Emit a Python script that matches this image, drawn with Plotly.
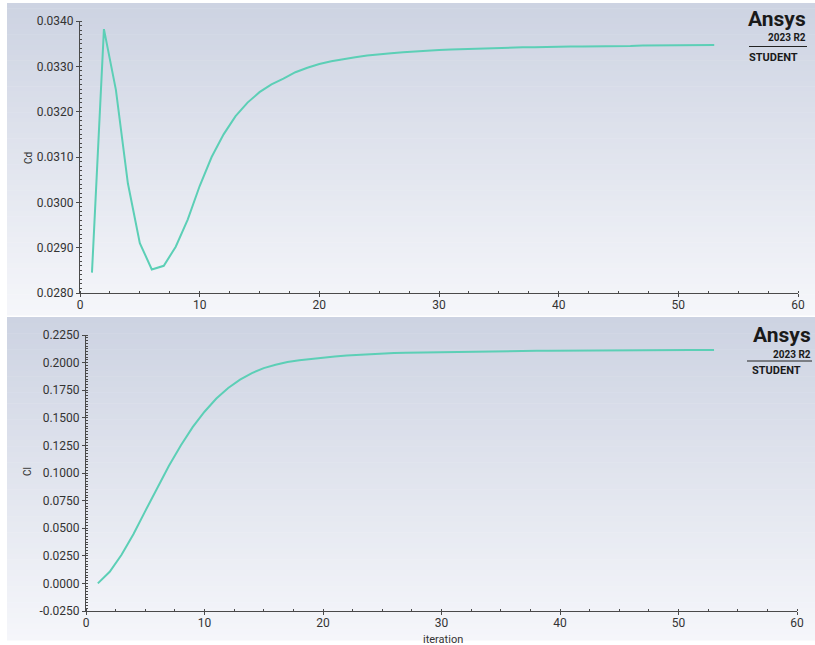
import plotly.graph_objects as go

iterations = list(range(1, 54))

cd_values = [
    0.02845, 0.03382, 0.03248, 0.03042, 0.02910, 0.02852, 0.02860, 0.02902, 0.02962, 0.03036,
    0.03100, 0.03150, 0.03190, 0.03220, 0.03243, 0.03260, 0.03273, 0.03287, 0.03297, 0.03305,
    0.03311, 0.03316, 0.03320, 0.03324, 0.03327, 0.03329, 0.03331, 0.03333, 0.03335, 0.03336,
    0.03337, 0.03338, 0.03339, 0.03340, 0.03340, 0.03341, 0.03342, 0.03342, 0.03343, 0.03343,
    0.03344, 0.03344, 0.03344, 0.03345, 0.03345, 0.03345, 0.03346, 0.03346, 0.03346, 0.03346,
    0.03347, 0.03347, 0.03347,
]

cl_values = [
    0.0000, 0.0105, 0.0260, 0.0445, 0.0655, 0.0865, 0.1065, 0.1250, 0.1415, 0.1555,
    0.1675, 0.1770, 0.1845, 0.1905, 0.1950, 0.1980, 0.2005, 0.2022, 0.2035, 0.2045,
    0.2055, 0.2065, 0.2072, 0.2078, 0.2083, 0.2087, 0.2090, 0.2092, 0.2095, 0.2097,
    0.2099, 0.2100, 0.2102, 0.2103, 0.2104, 0.2105, 0.2106, 0.2107, 0.2108, 0.2109,
    0.2110, 0.2110, 0.2111, 0.2111, 0.2112, 0.2112, 0.2113, 0.2113, 0.2113, 0.2114,
    0.2114, 0.2114, 0.2115,
]

x_ticks = [0, 10, 20, 30, 40, 50, 60]
cd_ticks = [0.0280, 0.0290, 0.0300, 0.0310, 0.0320, 0.0330, 0.0340]
cl_ticks = [-0.0250, 0.0000, 0.0250, 0.0500, 0.0750, 0.1000, 0.1250, 0.1500, 0.1750, 0.2000, 0.2250]

W, H = 815, 645
LINE_COLOR = "#5ccfb6"
AXIS_COLOR = "#4a4a4a"
TICK_FONT = dict(family="Roboto, Inter, sans-serif", size=12, color="#333333")


def px_x(p):
    return p / W


def px_y(p):
    return 1 - p / H


fig = go.Figure()
fig.add_trace(go.Scatter(x=iterations, y=cd_values, mode="lines",
                         line=dict(color=LINE_COLOR, width=2), xaxis="x", yaxis="y",
                         showlegend=False, hoverinfo="x+y"))
fig.add_trace(go.Scatter(x=iterations, y=cl_values, mode="lines",
                         line=dict(color=LINE_COLOR, width=2), xaxis="x2", yaxis="y2",
                         showlegend=False, hoverinfo="x+y"))

shapes = []
top_c = (205, 211, 226)
bot_c = (245, 246, 250)
panels = [(3, 315), (317, 640)]
n_bands = 60
for (p0, p1) in panels:
    h = (p1 - p0) / n_bands
    for i in range(n_bands):
        t = i / (n_bands - 1)
        c = tuple(int(round(top_c[k] + (bot_c[k] - top_c[k]) * t)) for k in range(3))
        shapes.append(dict(type="rect", xref="paper", yref="paper", layer="below",
                           x0=px_x(7), x1=1.0,
                           y0=px_y(p0 + (i + 1) * h + 0.5), y1=px_y(p0 + i * h),
                           line=dict(width=0), fillcolor="rgb(%d,%d,%d)" % c))

shapes.append(dict(type="line", xref="paper", yref="paper",
                   x0=px_x(749), x1=px_x(807), y0=px_y(46.5), y1=px_y(46.5),
                   line=dict(color="#222222", width=1)))
shapes.append(dict(type="line", xref="paper", yref="paper",
                   x0=px_x(747), x1=px_x(812), y0=px_y(361), y1=px_y(361),
                   line=dict(color="#222222", width=1)))

annotations = []


def logo(x_right, y_ansys, y_rel, y_student, x_student_right):
    annotations.append(dict(text="<b>Ansys</b>", xref="paper", yref="paper",
                            x=px_x(x_right), y=px_y(y_ansys), xanchor="right", yanchor="middle",
                            showarrow=False, font=dict(family="Roboto, sans-serif", size=21, color="#1a1a1a")))
    annotations.append(dict(text="<b>2023 R2</b>", xref="paper", yref="paper",
                            x=px_x(x_right), y=px_y(y_rel), xanchor="right", yanchor="middle",
                            showarrow=False, font=dict(family="Roboto, sans-serif", size=10, color="#1a1a1a")))
    annotations.append(dict(text="<b>STUDENT</b>", xref="paper", yref="paper",
                            x=px_x(x_student_right), y=px_y(y_student), xanchor="right", yanchor="middle",
                            showarrow=False, font=dict(family="Roboto, sans-serif", size=11, color="#1a1a1a")))


logo(808, 18.5, 38, 57.5, 800)
logo(813, 335, 354, 370, 803)

annotations.append(dict(text="Cd", xref="paper", yref="paper", x=px_x(29), y=px_y(158),
                        xanchor="center", yanchor="middle", textangle=-90, showarrow=False,
                        font=dict(family="Roboto, sans-serif", size=10, color="#333333")))
annotations.append(dict(text="Cl", xref="paper", yref="paper", x=px_x(27), y=px_y(472),
                        xanchor="center", yanchor="middle", textangle=-90, showarrow=False,
                        font=dict(family="Roboto, sans-serif", size=10, color="#333333")))
annotations.append(dict(text="iteration", xref="paper", yref="paper", x=px_x(443), y=px_y(639),
                        xanchor="center", yanchor="middle", showarrow=False,
                        font=dict(family="Roboto, sans-serif", size=11, color="#333333")))

xaxis_common = dict(range=[0, 60], tickvals=x_ticks, ticktext=[str(v) for v in x_ticks],
                    showgrid=False, zeroline=False, showline=True, linecolor=AXIS_COLOR, linewidth=1,
                    ticks="outside", ticklen=3, tickcolor=AXIS_COLOR, tickfont=TICK_FONT,
                    ticklabelstandoff=-2,
                    minor=dict(dtick=2.5, tick0=0, ticks="inside", ticklen=2, tickcolor=AXIS_COLOR,
                               showgrid=False),
                    fixedrange=True)
yaxis_common = dict(showgrid=False, zeroline=False, showline=True, linecolor=AXIS_COLOR, linewidth=1,
                    ticks="outside", ticklen=3, tickcolor=AXIS_COLOR, tickfont=TICK_FONT,
                    fixedrange=True)

fig.update_layout(
    width=W, height=H,
    margin=dict(l=0, r=0, t=0, b=0, autoexpand=False),
    paper_bgcolor="white",
    plot_bgcolor="rgba(0,0,0,0)",
    showlegend=False,
    shapes=shapes,
    annotations=annotations,
    xaxis=dict(domain=[px_x(80), px_x(798)], anchor="y", **xaxis_common),
    yaxis=dict(domain=[px_y(293), px_y(21)], anchor="x", range=[0.028, 0.034],
               tickvals=cd_ticks, ticktext=["%.4f" % v for v in cd_ticks],
               minor=dict(dtick=0.0001, tick0=0.028, ticks="inside", ticklen=2, tickcolor=AXIS_COLOR,
                          showgrid=False),
               **yaxis_common),
    xaxis2=dict(domain=[px_x(86), px_x(797)], anchor="y2", **xaxis_common),
    yaxis2=dict(domain=[px_y(611), px_y(335)], anchor="x2", range=[-0.025, 0.225],
                tickvals=cl_ticks, ticktext=["%.4f" % v for v in cl_ticks],
                minor=dict(dtick=0.0025, tick0=-0.025, ticks="inside", ticklen=2, tickcolor=AXIS_COLOR,
                           showgrid=False),
                **yaxis_common),
)

fig.write_html("out.html", config={"displayModeBar": False},
               post_script="document.body.style.margin='0';document.body.style.overflow='hidden';")
